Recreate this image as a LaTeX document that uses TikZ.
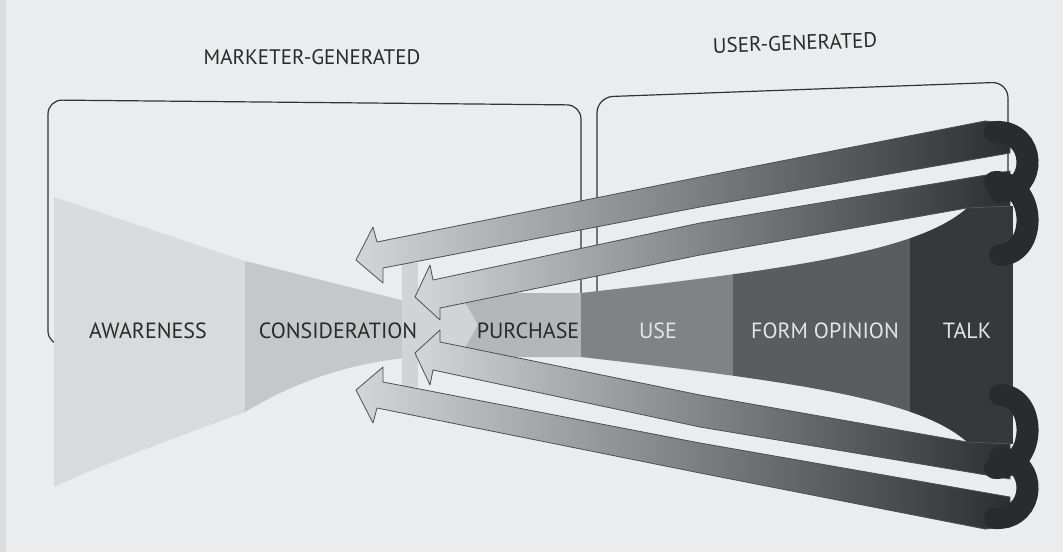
\documentclass[tikz,border=0pt]{standalone}
\usepackage{fontspec}
\setmainfont{PT Sans}
\definecolor{bg}{HTML}{EBECED}
\definecolor{edgec}{HTML}{DCDDDE}
\definecolor{boxc}{HTML}{333333}
\definecolor{awc}{HTML}{D9DADB}
\definecolor{coc}{HTML}{C6C7C8}
\definecolor{jnc}{HTML}{D2D3D4}
\definecolor{puc}{HTML}{B5B6B7}
\definecolor{usc}{HTML}{808285}
\definecolor{foc}{HTML}{5A5C5F}
\definecolor{tac}{HTML}{37383A}
\definecolor{bandL}{HTML}{D4D5D6}
\definecolor{bandR}{HTML}{2D2E30}
\definecolor{bandline}{HTML}{4E4F51}
\definecolor{loopc}{HTML}{2A2B2D}
\definecolor{darktext}{HTML}{2A2A2A}
\definecolor{lighttext}{HTML}{E4E5E6}
\tikzset{
  boxline/.style={draw=boxc, line width=1.2},
  titletext/.style={inner sep=0, text=darktext, font=\fontsize{21}{25}\selectfont},
  stagelab/.style={inner sep=0, text=darktext, font=\fontsize{22}{26}\selectfont},
  stagelabw/.style={inner sep=0, text=lighttext, font=\fontsize{22}{26}\selectfont},
  bandshape/.style={left color=bandL, right color=bandR, draw=bandline, line width=0.8, line join=round},
  loopstroke/.style={draw=loopc, line width=22, line cap=round}
}
\begin{document}
\begin{tikzpicture}[x=1pt,y=-1pt]
\useasboundingbox (0,0) rectangle (1063,552);
\fill[bg] (0,0) rectangle (1063,552);
\fill[edgec] (0,0) rectangle (6,552);

% group frames
\draw[boxline, rounded corners=14] (48,345) -- (48,100) -- (581,105) -- (581,345) -- cycle;
\draw[boxline, rounded corners=16] (597,345) -- (597,97) -- (1008,82) -- (1008,345) -- cycle;

% titles
\node[titletext] (mg) at (312,57) {MARKETER-GENERATED};
\node[titletext, rotate=2] (ug) at (795,43) {USER-GENERATED};

% funnel, marketer side
\fill[awc] (54,197) -- (245,261) -- (245,412) .. controls (170,440) and (100,465) .. (54,487) -- cycle;
\fill[coc] (245,261) -- (405,301) -- (405,358) .. controls (340,365) and (290,385) .. (245,412) -- cycle;
\fill[jnc] (402,263) rectangle (418,387);
\fill[jnc] (416,293) -- (462,293) -- (478,325) -- (462,357) -- (416,357) -- cycle;
\fill[puc] (460,293) -- (581,293) -- (581,357) -- (460,357) -- (478,325) -- cycle;

% funnel, user side
\begin{scope}
\clip (581,293) .. controls (800,268) and (920,250) .. (967,208) -- (1013,206) -- (1013,444) -- (967,442) .. controls (920,400) and (800,382) .. (581,357) -- cycle;
\fill[usc] (581,150) rectangle (733,500);
\fill[foc] (733,150) rectangle (910,500);
\fill[tac] (910,150) rectangle (1013,500);
\end{scope}

% feedback bands
\shade[bandshape] (356,260) -- (373,227) -- (377,242) -- (700,177) -- (985,121) -- (1010,123) -- (1010,153) -- (700,207) -- (383,268) -- (383,283) -- cycle;
\shade[bandshape] (415,297) -- (430,265) -- (433,280) -- (700,223) -- (1010,171) -- (1010,206) -- (967,208) -- (700,255) -- (440,308) -- (440,320) -- cycle;
\shade[bandshape] (415,353) -- (430,385) -- (433,370) -- (700,427) -- (1010,479) -- (1010,444) -- (967,442) -- (700,395) -- (440,342) -- (440,330) -- cycle;
\shade[bandshape] (356,390) -- (373,423) -- (377,408) -- (700,473) -- (985,529) -- (1010,527) -- (1010,497) -- (700,443) -- (383,382) -- (383,367) -- cycle;

% loops
\draw[loopstroke] (995,132) .. controls (1037,130) and (1038,190) .. (1000,192);
\draw[loopstroke] (995,182) .. controls (1037,182) and (1038,254) .. (1000,255);
\draw[loopstroke] (1000,395) .. controls (1038,396) and (1037,468) .. (995,468);
\draw[loopstroke] (1000,458) .. controls (1038,460) and (1037,520) .. (995,518);

% stage labels
\node[stagelab] (aw) at (148,331) {AWARENESS};
\node[stagelab] (co) at (338,331) {CONSIDERATION};
\node[stagelab] (pu) at (528,331) {PURCHASE};
\node[stagelabw] (us) at (658,331) {USE};
\node[stagelabw] (fo) at (825,331) {FORM OPINION};
\node[stagelabw] (ta) at (967,331) {TALK};
\end{tikzpicture}
\end{document}
